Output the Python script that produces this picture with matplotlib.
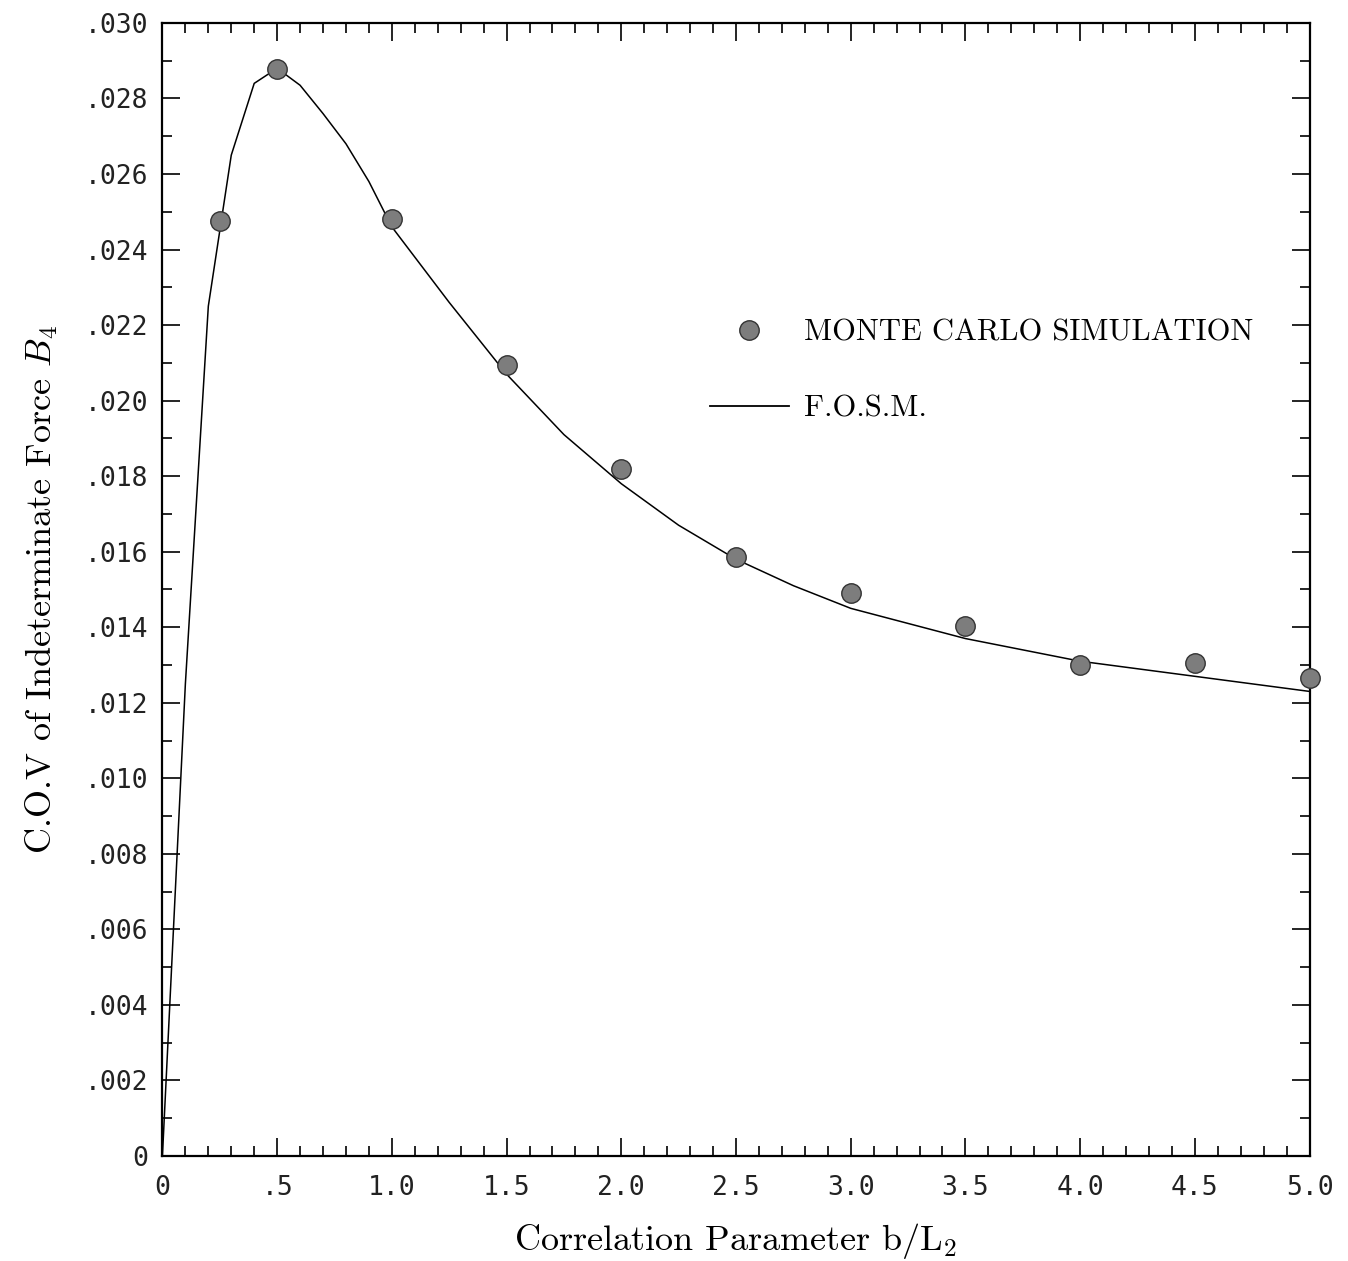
import matplotlib
matplotlib.use("Agg")
import matplotlib.pyplot as plt
from matplotlib.ticker import MultipleLocator, FixedLocator, FixedFormatter
from matplotlib.lines import Line2D

# F.O.S.M. curve
fosm_x = [0.0, 0.1, 0.2, 0.3, 0.4, 0.5, 0.6, 0.7, 0.8, 0.9, 1.0, 1.25, 1.5,
          1.75, 2.0, 2.25, 2.5, 2.75, 3.0, 3.5, 4.0, 4.5, 5.0]
fosm_y = [0.0, 0.0125, 0.0225, 0.0265, 0.0284, 0.0288, 0.02835, 0.0276,
          0.0268, 0.0258, 0.0246, 0.0226, 0.0207, 0.0191, 0.0178, 0.0167,
          0.0158, 0.0151, 0.0145, 0.0137, 0.0131, 0.0127, 0.0123]

# Monte Carlo simulation points
mc_x = [0.25, 0.5, 1.0, 1.5, 2.0, 2.5, 3.0, 3.5, 4.0, 4.5, 5.0]
mc_y = [0.02475, 0.02878, 0.02482, 0.02095, 0.01819, 0.01586, 0.01490,
        0.01402, 0.01299, 0.01306, 0.01265]

x_ticks = [0, 0.5, 1.0, 1.5, 2.0, 2.5, 3.0, 3.5, 4.0, 4.5, 5.0]
x_labels = ["0", ".5", "1.0", "1.5", "2.0", "2.5", "3.0", "3.5", "4.0", "4.5", "5.0"]
y_ticks = [0.002 * i for i in range(16)]
y_labels = ["0"] + [".%03d" % (2 * i) for i in range(1, 16)]

plt.rcParams["mathtext.fontset"] = "cm"
SERIF = "cmr10"
MONO = "DejaVu Sans Mono"

fig = plt.figure(figsize=(13.48, 12.61), dpi=100)
ax = fig.add_axes([0.1205, 0.0833, 0.851, 0.8985])

ax.plot(fosm_x, fosm_y, color="black", lw=1.1, zorder=2)
ax.plot(mc_x, mc_y, "o", ls="none", ms=14, mfc="#7d7d7d", mec="#333333",
        mew=1.0, clip_on=False, zorder=3)

ax.set_xlim(0, 5.0)
ax.set_ylim(0, 0.030)

ax.xaxis.set_major_locator(FixedLocator(x_ticks))
ax.xaxis.set_major_formatter(FixedFormatter(x_labels))
ax.xaxis.set_minor_locator(MultipleLocator(0.1))
ax.yaxis.set_major_locator(FixedLocator(y_ticks))
ax.yaxis.set_major_formatter(FixedFormatter(y_labels))
ax.yaxis.set_minor_locator(MultipleLocator(0.001))

ax.tick_params(which="both", direction="in", top=True, right=True,
               width=1.2, colors="black")
ax.tick_params(which="major", length=13)
ax.tick_params(which="minor", length=7)
ax.tick_params(axis="x", which="major", pad=14)
ax.tick_params(axis="y", which="major", pad=10)
for lab in ax.get_xticklabels() + ax.get_yticklabels():
    lab.set_fontfamily(MONO)
    lab.set_fontsize(19)
    lab.set_color("#222222")

for sp in ax.spines.values():
    sp.set_linewidth(1.6)

ax.set_xlabel("Correlation Parameter b/L$_2$", family=SERIF, fontsize=26,
              labelpad=14)
ax.set_ylabel("C.O.V of Indeterminate Force $B_4$", family=SERIF, fontsize=26,
              labelpad=18)

handles = [
    Line2D([0], [0], marker="o", ls="none", ms=14, mfc="#7d7d7d",
           mec="#333333", mew=1.0),
    Line2D([0], [0], color="black", lw=1.3),
]
ax.legend(handles, ["MONTE CARLO SIMULATION", "F.O.S.M."],
          loc="center left", bbox_to_anchor=(0.477, 0.693), frameon=False,
          prop={"family": SERIF, "size": 22}, handlelength=2.6,
          handletextpad=0.5, labelspacing=1.6, borderpad=0,
          borderaxespad=0, numpoints=1)

fig.savefig("out.png", dpi=100)
